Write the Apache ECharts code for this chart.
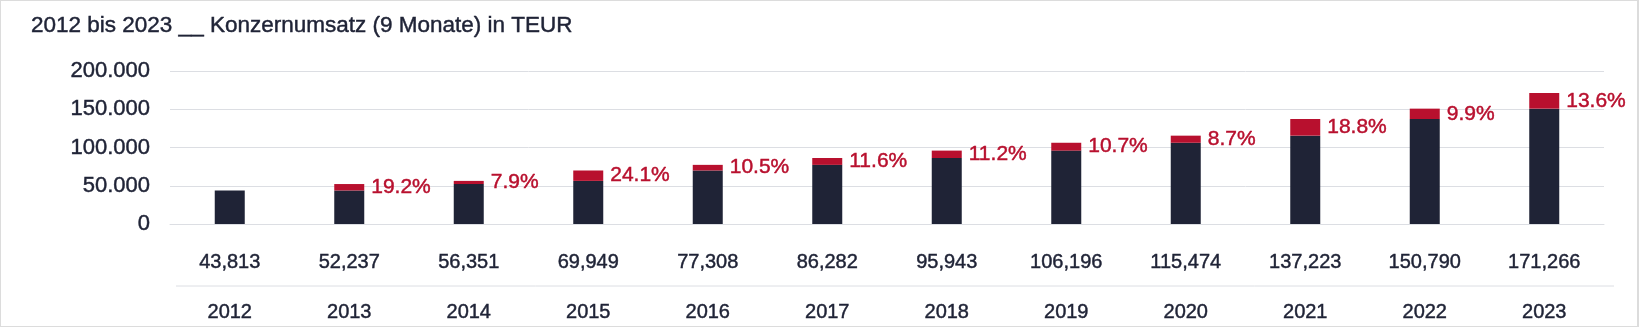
<!DOCTYPE html>
<html>
<head>
<meta charset="utf-8">
<script src="https://cdn.jsdelivr.net/npm/echarts@6/dist/echarts.min.js"></script>
<style>
html,body{margin:0;padding:0;background:#fff;}
#frame{width:1639px;height:327px;box-sizing:border-box;border:1px solid #dcdcdc;border-right-width:2px;position:relative;overflow:hidden;}
#chart{position:absolute;left:-1px;top:-1px;width:1639px;height:328px;}
</style>
</head>
<body>
<div id="frame"><div id="chart"></div></div>
<script>
const years = ['2012','2013','2014','2015','2016','2017','2018','2019','2020','2021','2022','2023'];
const totalLabels = ['43,813','52,237','56,351','69,949','77,308','86,282','95,943','106,196','115,474','137,223','150,790','171,266'];
const baseValues = [43813,43813,52237,56351,69949,77308,86282,95943,106196,115474,137223,150790];
const increaseValues = [null,8424,4114,13598,7359,8974,9661,10253,9278,21749,13567,20476];
const growthLabels = ['','19.2%','7.9%','24.1%','10.5%','11.6%','11.2%','10.7%','8.7%','18.8%','9.9%','13.6%'];
const yTicks = [0,50000,100000,150000,200000];

const NAVY = '#1f2336';
const RED = '#b8102e';
const GRID = '#dcdee3';
const FONT = '"Liberation Sans", Arial, Helvetica, sans-serif';
const SW = 0.45;

const chart = echarts.init(document.getElementById('chart'), null, {renderer:'canvas'});
chart.setOption({
  animation:false,
  textStyle:{fontFamily:FONT},
  title:{
    text:'2012 bis 2023 __ Konzernumsatz (9 Monate) in TEUR',
    left:26, top:9,
    textStyle:{fontFamily:FONT,fontSize:22.5,fontWeight:'normal',color:NAVY,textBorderColor:NAVY,textBorderWidth:SW}
  },
  grid:{left:170,right:35,top:71,bottom:104,containLabel:false},
  xAxis:[{
    type:'category',
    data:totalLabels,
    axisLine:{show:true,lineStyle:{color:GRID,width:1}},
    axisTick:{show:false},
    axisLabel:{margin:28,fontSize:20,color:NAVY,fontFamily:FONT,interval:0,textBorderColor:NAVY,textBorderWidth:SW}
  },{
    type:'category',
    position:'bottom',
    data:years,
    axisLine:{show:false},
    axisTick:{show:false},
    axisLabel:{margin:78,fontSize:20,color:NAVY,fontFamily:FONT,interval:0,textBorderColor:NAVY,textBorderWidth:SW}
  }],
  yAxis:{
    type:'value',
    min:yTicks[0], max:yTicks[yTicks.length-1], interval:50000,
    axisLine:{show:false},
    axisTick:{show:false},
    splitLine:{lineStyle:{color:GRID,width:1}},
    axisLabel:{
      margin:20,fontSize:22,color:NAVY,fontFamily:FONT,textBorderColor:NAVY,textBorderWidth:SW,
      formatter:v=>v===0?'0':v.toLocaleString('de-DE').replace(/,/g,'.')
    }
  },
  graphic:[{
    type:'line',
    shape:{x1:176,y1:286,x2:1614,y2:286},
    style:{stroke:GRID,lineWidth:1},
    silent:true
  }],
  series:[{
    type:'bar',
    stack:'s',
    data:baseValues,
    barWidth:30,
    itemStyle:{color:NAVY}
  },{
    type:'bar',
    stack:'s',
    data:increaseValues,
    barWidth:30,
    itemStyle:{color:RED},
    label:{
      show:true,position:'right',distance:7,
      fontSize:21,color:RED,fontFamily:FONT,textBorderColor:RED,textBorderWidth:SW,
      formatter:p=>growthLabels[p.dataIndex]
    }
  }]
});
</script>
</body>
</html>
